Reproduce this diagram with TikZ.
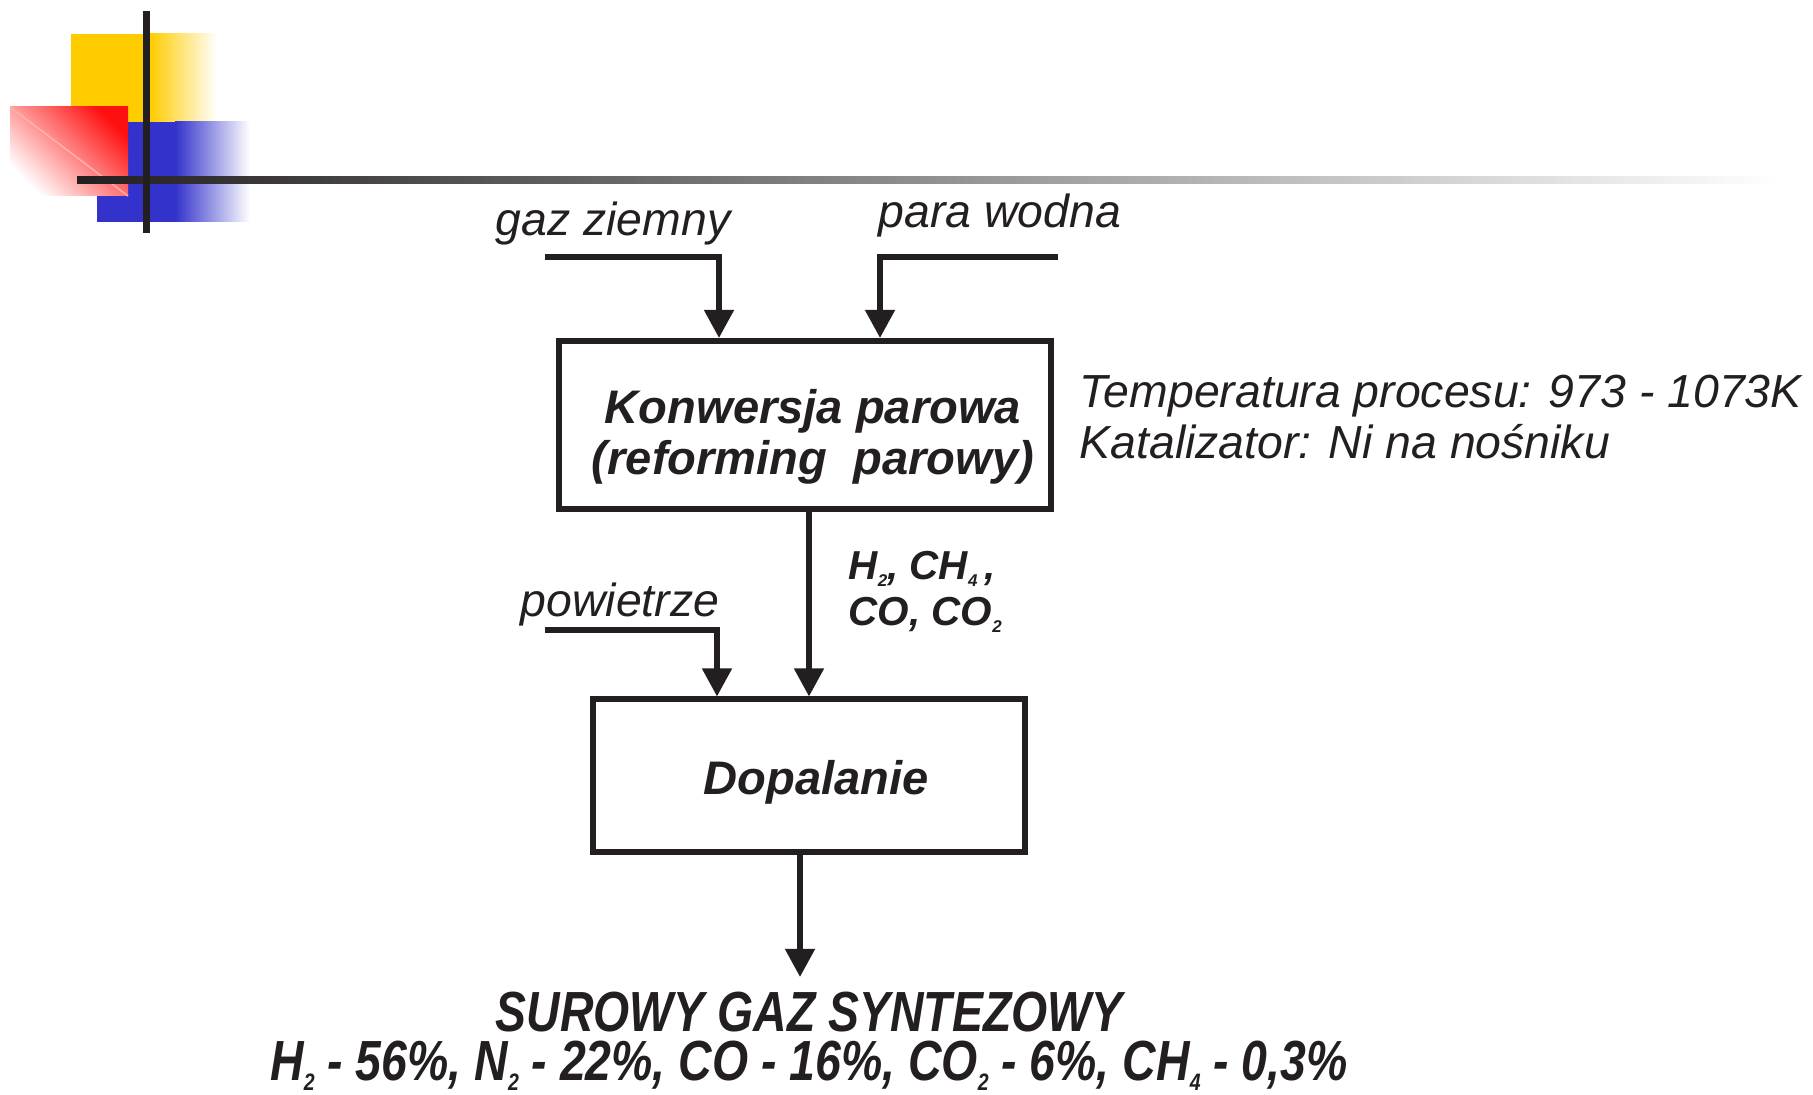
\documentclass[tikz,border=0pt]{standalone}
\usepackage{fontspec}
\usepackage{graphicx}
\setmainfont{Liberation Sans}
\newfontfamily\narrowsans[FakeStretch=0.82]{Liberation Sans}
\usetikzlibrary{arrows.meta}

\definecolor{ink}{HTML}{231F20}
\definecolor{decoyellow}{HTML}{FFCC00}
\definecolor{decoblue}{HTML}{3333CC}
\definecolor{decored}{HTML}{FF1010}

\newcommand{\lowidx}[1]{\raisebox{-0.16em}{\scalebox{0.42}{#1}}}

\begin{document}
\begin{tikzpicture}[
		procbox/.style={draw=ink, line width=1.7pt, inner sep=0pt},
		boxtxt/.style={align=center, text=ink, inner sep=0pt, font=\fontsize{13.4}{14.5}\selectfont\bfseries\itshape},
		flow/.style={draw=ink, line width=1.6pt, -{Triangle[width=8.2pt,length=8pt]}},
		lbl/.style={font=\fontsize{13.2}{15}\selectfont\itshape, text=ink, inner sep=0pt},
		gas/.style={font=\fontsize{11.5}{13}\selectfont\bfseries\itshape, text=ink, inner sep=0pt},
		product/.style={font=\narrowsans\fontsize{16.1}{18}\selectfont\bfseries\itshape, text=ink, inner sep=0pt}]
		\useasboundingbox (0,0) rectangle (18.13,10.95);

		% ornament in the corner
		\fill[decoyellow] (0.71,9.73) rectangle (1.50,10.61);
		\shade[left color=decoyellow, right color=white] (1.50,9.73) rectangle (2.17,10.61);
		\fill[decoblue] (0.97,8.73) rectangle (1.75,9.73);
		\shade[left color=decoblue, right color=white] (1.75,8.73) rectangle (2.50,9.73);
		\shade[bottom color=white, top color=decored, shading angle=-45] (0.10,8.99) rectangle (1.28,9.88);
		\draw[red!30, line width=0.4pt] (0.10,9.88) -- (1.28,8.99);
		\shade[left color=ink, right color=white] (0.77,9.11) rectangle (17.80,9.18);
		\fill[ink] (1.43,8.62) rectangle (1.50,10.84);

		\node[procbox, minimum width=4.92cm, minimum height=1.68cm] (konw) at (8.05,6.70) {};
		\node[boxtxt] (konwtxt) at (8.13,6.58) {Konwersja parowa\\(reforming~~parowy)};
		\node[procbox, minimum width=4.32cm, minimum height=1.53cm] (dopal) at (8.09,3.19) {};
		\node[boxtxt] (dopaltxt) at (8.16,3.13) {Dopalanie};

		\node[lbl, anchor=base] (gaz) at (6.13,8.59) {gaz ziemny};
		\node[lbl, anchor=base] (para) at (10.00,8.67) {para wodna};
		\node[lbl, anchor=base] (pow) at (6.20,4.78) {powietrze};
		\node[gas, anchor=base west] (gas1) at (8.48,5.15) {H\lowidx{2}, CH\lowidx{4}\,,};
		\node[gas, anchor=base west] (gas2) at (8.48,4.69) {CO, CO\lowidx{2}};
		\node[lbl, anchor=base west] (temp) at (10.79,6.87) {Temperatura procesu: 973 - 1073K};
		\node[lbl, anchor=base west] (kat) at (10.79,6.36) {Katalizator: Ni na nośniku};

		\node[product, anchor=base] (syn) at (8.09,0.63) {SUROWY GAZ SYNTEZOWY};
		\node[product, anchor=base] (sklad) at (8.09,0.14) {H\lowidx{2} - 56\%, N\lowidx{2} - 22\%, CO - 16\%, CO\lowidx{2} - 6\%, CH\lowidx{4} - 0,3\%};

		\coordinate (gazin) at (5.45,8.38);
		\coordinate (parain) at (10.58,8.38);
		\coordinate (powin) at (5.45,4.65);
		\coordinate (wyjscie) at (8.00,1.18);

		\draw[flow] (gazin) -| ([xshift=-0.86cm]konw.north);
		\draw[flow] (parain) -| ([xshift=0.75cm]konw.north);
		\draw[flow] (konw.south -| dopal.north) -- (dopal.north);
		\draw[flow] (powin) -| ([xshift=-0.92cm]dopal.north);
		\draw[flow] ([xshift=-0.09cm]dopal.south) -- (wyjscie);
	\end{tikzpicture}
\end{document}
